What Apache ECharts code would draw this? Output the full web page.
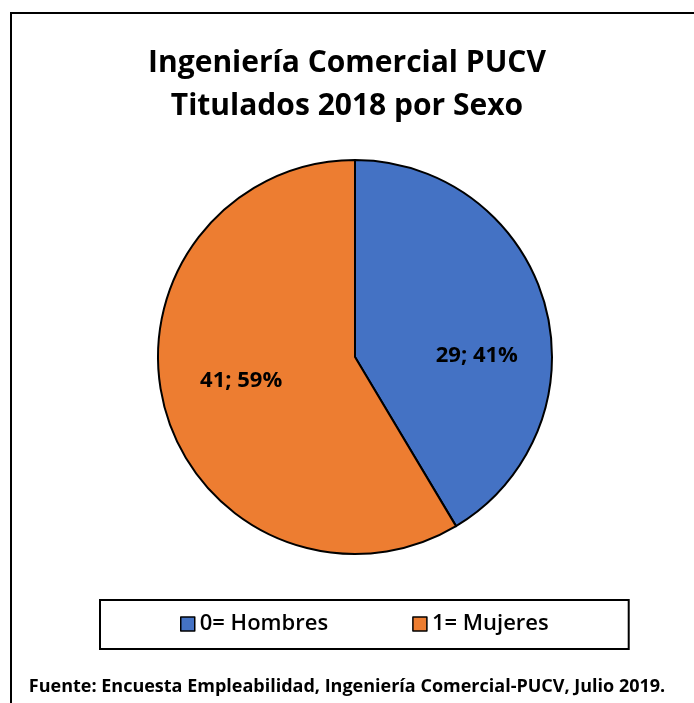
<!DOCTYPE html>
<html>
<head>
<meta charset="utf-8">
<script src="https://cdn.jsdelivr.net/npm/echarts@6/dist/echarts.min.js"></script>
<style>
html, body { margin: 0; padding: 0; background: #fff; }
#chart { width: 694px; height: 703px; }
</style>
</head>
<body>
<div id="chart"></div>
<script>
// datos del grafico
var categorias = ['0= Hombres', '1= Mujeres'];
var valores = [29, 41];
var colores = ['#4472C4', '#ED7D31'];
var tituloLineas = ['Ingeniería Comercial PUCV', 'Titulados 2018 por Sexo'];
var fuente = 'Fuente: Encuesta Empleabilidad, Ingeniería Comercial-PUCV, Julio 2019.';

var FONT = '"Open Sans", "Noto Sans", sans-serif';
var total = valores.reduce(function (a, b) { return a + b; }, 0);

// ajuste manual de la posicion de las etiquetas
var desplaz = [[24, 26], [-16, -3]];

var pieData = [];
for (var i = 0; i < categorias.length; i++) {
    pieData.push({
        name: categorias[i],
        value: valores[i],
        itemStyle: { color: colores[i] },
        label: { offset: desplaz[i] }
    });
}

var option = {
    backgroundColor: '#fff',
    animation: false,
    title: [
        {
            text: tituloLineas.join('\n'),
            left: 'center',
            top: 37,
            textStyle: {
                fontFamily: FONT,
                fontWeight: 'bold',
                fontSize: 30,
                lineHeight: 43,
                color: '#000'
            }
        },
        {
            text: fuente,
            left: 'center',
            top: 673,
            textStyle: {
                fontFamily: FONT,
                fontWeight: 'bold',
                fontSize: 18,
                color: '#000'
            }
        }
    ],
    legend: {
        data: categorias,
        left: 100,
        top: 600,
        orient: 'horizontal',
        padding: [13, 80, 14, 80],
        itemGap: 84,
        itemWidth: 14,
        itemHeight: 14,
        icon: 'rect',
        borderColor: '#000',
        borderWidth: 2,
        itemStyle: { borderColor: '#000', borderWidth: 1.5 },
        textStyle: { fontFamily: FONT, fontSize: 22, fontWeight: 600, color: '#000' }
    },
    graphic: [
        {
            type: 'rect',
            shape: { x: 11, y: 13, width: 720, height: 720 },
            style: { fill: 'none', stroke: '#000', lineWidth: 2 },
            silent: true
        }
    ],
    series: [
        {
            type: 'pie',
            center: [355, 357],
            radius: [0, 197],
            startAngle: 90,
            clockwise: true,
            data: pieData,
            itemStyle: { borderColor: '#000', borderWidth: 2 },
            label: {
                show: true,
                position: 'inside',
                fontFamily: FONT,
                fontWeight: 'bold',
                fontSize: 22,
                color: '#000',
                formatter: function (p) {
                    return p.value + '; ' + Math.round(p.value / total * 100) + '%';
                }
            },
            labelLine: { show: false },
            emphasis: { disabled: true }
        }
    ]
};

var chart = echarts.init(document.getElementById('chart'), null, { renderer: 'canvas' });
chart.setOption(option);
</script>
</body>
</html>
